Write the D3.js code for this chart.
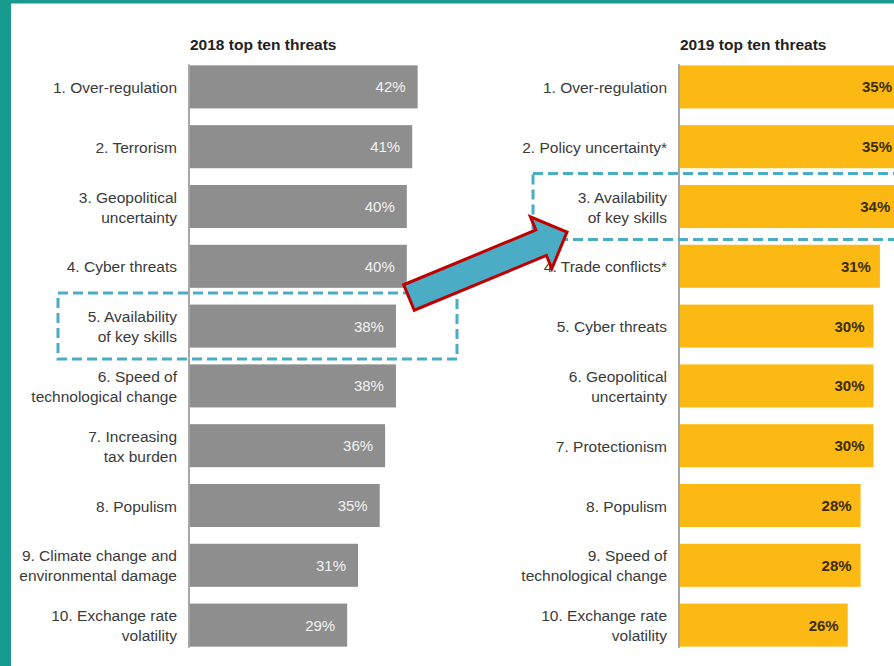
<!DOCTYPE html>
<html><head><meta charset="utf-8">
<script src="https://cdn.jsdelivr.net/npm/d3@7"></script>
<style>body{margin:0;background:#fff}svg{display:block}</style>
</head><body>
<script>
// ---- data ----
const titles = ["2018 top ten threats", "2019 top ten threats"];
const labels2018 = [
  "1. Over-regulation", "2. Terrorism", "3. Geopolitical\nuncertainty", "4. Cyber threats",
  "5. Availability\nof key skills", "6. Speed of\ntechnological change", "7. Increasing\ntax burden",
  "8. Populism", "9. Climate change and\nenvironmental damage", "10. Exchange rate\nvolatility"
];
const values2018 = [42, 41, 40, 40, 38, 38, 36, 35, 31, 29];
const labels2019 = [
  "1. Over-regulation", "2. Policy uncertainty*", "3. Availability\nof key skills", "4. Trade conflicts*",
  "5. Cyber threats", "6. Geopolitical\nuncertainty", "7. Protectionism", "8. Populism",
  "9. Speed of\ntechnological change", "10. Exchange rate\nvolatility"
];
const values2019 = [35, 35, 34, 31, 30, 30, 30, 28, 28, 26];
const highlight2018 = 4; // index of "Availability of key skills"
const highlight2019 = 2;

// ---- layout ----
const W = 894, H = 666;
const svg = d3.select("body").append("svg").attr("width", W).attr("height", H);
svg.append("rect").attr("width", W).attr("height", H).attr("fill", "#fff");

const y = d3.scaleBand().domain(d3.range(10)).range([57, 655]).paddingInner(0.28).paddingOuter(0.14);
const cy = i => y(i) + y.bandwidth() / 2;

const panels = [
  {title: titles[0], labels: labels2018, values: values2018, axisX: 189, pxPer: 5.42,
   bar: "#8e8e8e", txt: "#f2f2f2", weight: "normal", pad: 12},
  {title: titles[1], labels: labels2019, values: values2019, axisX: 679, pxPer: 6.45,
   bar: "#fdb913", txt: "#3a2d00", weight: "bold", pad: 9}
];

const font = "'Liberation Sans', Arial, Helvetica, sans-serif";

panels.forEach(p => {
  const maxV = d3.max(p.values);
  const x = d3.scaleLinear().domain([0, maxV]).range([p.axisX + 1, p.axisX + 1 + maxV * p.pxPer]);
  const g = svg.append("g");

  g.append("text").attr("x", p.axisX + 1).attr("y", 50)
    .attr("font-family", font).attr("font-size", 15.5).attr("font-weight", "bold")
    .attr("fill", "#222").text(p.title);

  g.selectAll("rect.bar").data(p.values).join("rect").attr("class", "bar")
    .attr("x", x(0)).attr("y", (d, i) => y(i))
    .attr("width", d => x(d) - x(0)).attr("height", y.bandwidth())
    .attr("fill", p.bar);

  g.append("line").attr("x1", p.axisX).attr("x2", p.axisX)
    .attr("y1", y(0) - 1).attr("y2", y(9) + y.bandwidth() + 1)
    .attr("stroke", "#8a8a8a").attr("stroke-width", 1.5);

  g.selectAll("text.val").data(p.values).join("text").attr("class", "val")
    .attr("x", d => Math.min(x(d) - p.pad, W - 2)).attr("y", (d, i) => cy(i) + 5.5)
    .attr("text-anchor", "end").attr("font-family", font).attr("font-size", 15)
    .attr("font-weight", p.weight).attr("fill", p.txt).text(d => d + "%");

  p.labels.forEach((lab, i) => {
    const lines = lab.split("\n");
    const t = g.append("text").attr("text-anchor", "end")
      .attr("font-family", font).attr("font-size", 15.5).attr("fill", "#3a3a3a");
    lines.forEach((ln, k) => {
      t.append("tspan").attr("x", p.axisX - 12)
        .attr("y", cy(i) + 6 + (k - (lines.length - 1) / 2) * 20).text(ln);
    });
  });
});

// ---- annotations ----
const dash = {stroke: "#4bacc6", w: 3, arr: "10,5"};
function box(x0, x1, i) {
  svg.append("rect").attr("x", x0).attr("y", cy(i) - 33).attr("width", x1 - x0).attr("height", 66)
    .attr("fill", "none").attr("stroke", dash.stroke).attr("stroke-width", dash.w)
    .attr("stroke-dasharray", dash.arr);
}
box(58, 457, highlight2018);
box(533, 960, highlight2019);

// arrow from left box to right box
const tail = [409, 297.5], tip = [567, 232];
const dx = tip[0] - tail[0], dy = tip[1] - tail[1];
const L = Math.hypot(dx, dy), ang = Math.atan2(dy, dx) * 180 / Math.PI;
const sw = 13.8, hw = 28, hl = 28;
const pts = [[0, -sw], [L - hl, -sw], [L - hl, -hw], [L, 0], [L - hl, hw], [L - hl, sw], [0, sw]];
svg.append("polygon")
  .attr("points", pts.map(q => q.join(",")).join(" "))
  .attr("transform", `translate(${tail[0]},${tail[1]}) rotate(${ang})`)
  .attr("fill", "#4bacc6").attr("stroke", "#c00000").attr("stroke-width", 3)
  .attr("stroke-linejoin", "miter");

// teal frame
svg.append("rect").attr("x", 0).attr("y", 0).attr("width", 11).attr("height", H).attr("fill", "#169b8e");
svg.append("rect").attr("x", 0).attr("y", 0).attr("width", W).attr("height", 3.5).attr("fill", "#169b8e");
</script>
</body></html>
